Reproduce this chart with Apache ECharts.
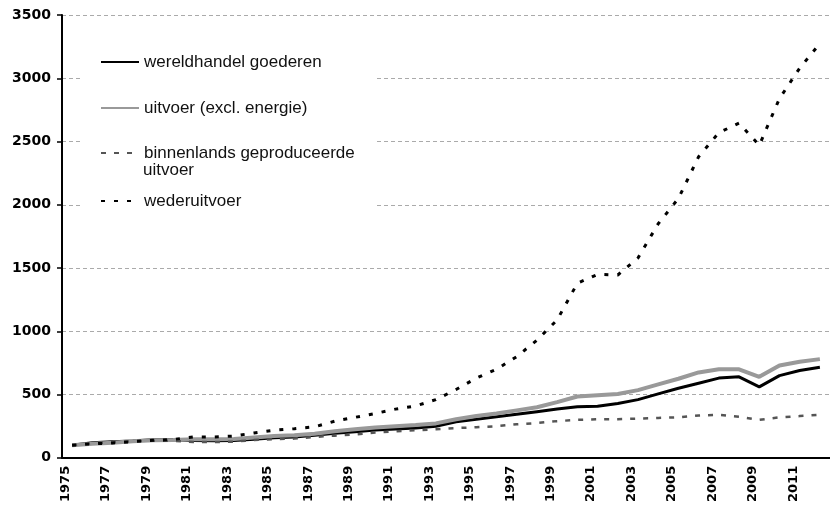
<!DOCTYPE html>
<html>
<head>
<meta charset="utf-8">
<script src="https://cdn.jsdelivr.net/npm/echarts@6/dist/echarts.min.js"></script>
<style>
    html, body { margin: 0; padding: 0; background: #fff; }
    #chart { width: 830px; height: 505px; }
</style>
</head>
<body>
<div id="chart"></div>
<script>
var years = []
for (var y = 1975; y <= 2012; y++) years.push(String(y))

var names = ['wereldhandel goederen', 'uitvoer (excl. energie)', 'binnenlands geproduceerde uitvoer', 'wederuitvoer']

// index 1975 = 100
var wereldhandel = [100, 120, 127, 133, 142, 142, 136, 134, 136, 147, 158, 165, 178, 195, 206, 220, 228, 235, 250, 285,
    305, 325, 345, 365, 385, 403, 408, 430, 460, 505, 550, 590, 630, 640, 561, 650, 690, 715]
var uitvoer = [100, 112, 120, 130, 138, 140, 146, 146, 148, 160, 172, 178, 190, 210, 225, 240, 250, 260, 272, 305,
    330, 350, 375, 400, 440, 485, 495, 505, 535, 580, 625, 675, 700, 700, 640, 730, 760, 780]
var binnenlands = [100, 115, 122, 130, 135, 135, 125, 125, 128, 140, 148, 152, 165, 175, 185, 200, 210, 218, 225, 235,
    242, 250, 265, 275, 290, 300, 305, 305, 310, 315, 320, 335, 340, 325, 300, 320, 330, 340]
var wederuitvoer = [100, 110, 118, 128, 138, 145, 165, 165, 172, 197, 218, 230, 245, 290, 320, 350, 385, 410, 460, 540,
    630, 700, 800, 930, 1090, 1380, 1450, 1445, 1580, 1850, 2050, 2380, 2570, 2645, 2470, 2840, 3080, 3275]

var legendTop = [53, 99, 144, 192]

var chart = echarts.init(document.getElementById('chart'))

var series = [
    { name: names[0], data: wereldhandel, color: '#000', lineStyle: { color: '#000', width: 3 } },
    { name: names[1], data: uitvoer, color: '#999', lineStyle: { color: '#999', width: 4 } },
    { name: names[2], data: binnenlands, color: '#555', lineStyle: { color: '#555', width: 2.5, type: [5, 8] } },
    { name: names[3], data: wederuitvoer, color: '#000', lineStyle: { color: '#000', width: 3, type: [4, 9] } }
].map(function(s) {
    s.type = 'line'
    s.symbol = 'none'
    s.silent = true
    return s
})

var legends = names.map(function(n, i) {
    return {
        data: [n],
        orient: 'vertical',
        left: 100,
        top: legendTop[i],
        padding: 0,
        z: 6,
        itemWidth: 38,
        itemHeight: 14,
        selectedMode: false,
        itemStyle: { opacity: 0 },
        formatter: function(name) {
            return name === names[2] ? 'binnenlands geproduceerde' : name
        },
        textStyle: {
            fontFamily: 'Liberation Sans',
            fontSize: 17,
            lineHeight: 18,
            color: '#111'
        }
    }
})

var option = {
    animation: false,
    backgroundColor: '#fff',
    grid: {
        left: 62,
        top: 15,
        width: 775,
        height: 443
    },
    legend: legends,
    graphic: [
        {
            type: 'rect',
            z: 3,
            shape: { x: 82, y: 30, width: 294, height: 185 },
            style: { fill: '#fff' }
        },
        {
            type: 'text',
            z: 7,
            left: 143,
            top: 162,
            style: {
                text: 'uitvoer',
                font: '17px "Liberation Sans"',
                fill: '#111'
            }
        }
    ],
    xAxis: {
        type: 'category',
        data: years,
        boundaryGap: true,
        axisLine: { lineStyle: { color: '#000', width: 2 } },
        axisTick: { interval: 0, length: 5, lineStyle: { color: '#000', width: 1.5 } },
        axisLabel: {
            interval: 1,
            rotate: 90,
            margin: 8,
            verticalAlign: 'bottom',
            fontFamily: 'DejaVu Sans',
            fontWeight: 'bold',
            fontSize: 13,
            color: '#000'
        },
        splitLine: { show: false }
    },
    yAxis: {
        type: 'value',
        min: 0,
        max: 3500,
        interval: 500,
        axisLine: { show: true, lineStyle: { color: '#000', width: 2 } },
        axisTick: { show: true, length: 5, lineStyle: { color: '#000', width: 1.5 } },
        axisLabel: {
            margin: 11,
            formatter: function(v) { return String(v) },
            fontFamily: 'DejaVu Sans',
            fontWeight: 'bold',
            fontSize: 14,
            color: '#000'
        },
        splitLine: {
            show: true,
            lineStyle: { color: '#aaa', width: 1, type: [4, 3] }
        }
    },
    series: series
}

chart.setOption(option)
</script>
</body>
</html>
